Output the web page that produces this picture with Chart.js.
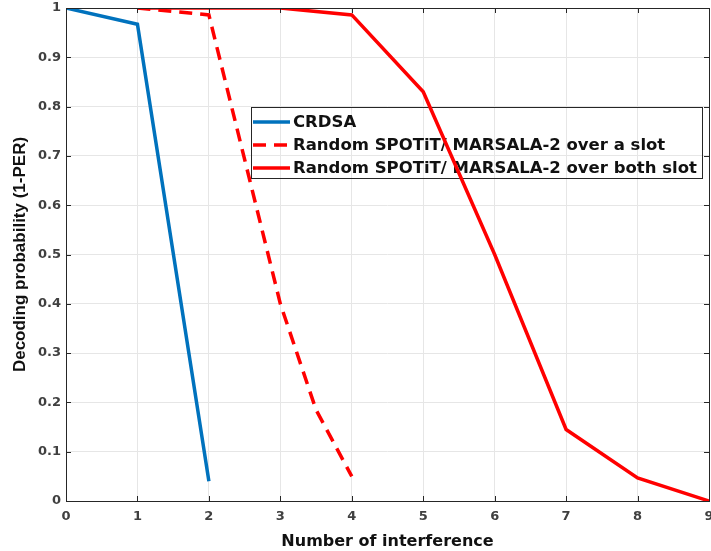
<!DOCTYPE html>
<html>
<head>
<meta charset="utf-8">
<script src="https://cdn.jsdelivr.net/npm/chart.js@4.4.1/dist/chart.umd.min.js"></script>
<style>
  body { margin: 0; background: #fff; }
  #chart { display: block; }
</style>
</head>
<body>
<canvas id="chart" width="711" height="551"></canvas>
<script>
// data \/
const crdsaX = [0, 1, 2];
const crdsaY = [1, 0.967, 0.04];
const oneSlotX = [1, 1.5, 2, 3, 3.5, 4];
const oneSlotY = [1, 0.993, 0.986, 0.4, 0.185, 0.05];
const bothSlotX = [1, 2, 3, 4, 5, 6, 7, 8, 9];
const bothSlotY = [1, 1, 1, 0.986, 0.83, 0.5, 0.145, 0.047, 0];
const seriesNames = [
    'CRDSA',
    'Random SPOTiT/ MARSALA-2 over a slot',
    'Random SPOTiT/ MARSALA-2 over both slot'
];
const xTicks = [0, 1, 2, 3, 4, 5, 6, 7, 8, 9];
const yTicks = [0, 0.1, 0.2, 0.3, 0.4, 0.5, 0.6, 0.7, 0.8, 0.9, 1];
// data /\

function toPoints(xs, ys) {
    return xs.map((x, i) => ({ x: x, y: ys[i] }));
}

const WIDE = "'DejaVu Sans', sans-serif";
const ARIAL = "'Liberation Sans', Arial, sans-serif";

// box round the plot + inward ticks, like matlab \/
const boxPlugin = {
    id: 'box',
    afterDatasetsDraw(chart) {
        const { ctx, chartArea: a, scales } = chart;
        ctx.save();
        ctx.strokeStyle = '#262626';
        ctx.lineWidth = 1;
        ctx.strokeRect(a.left + 0.5, a.top + 0.5, a.right - a.left, a.bottom - a.top);
        ctx.beginPath();
        xTicks.forEach(v => {
            const px = Math.round(scales.x.getPixelForValue(v)) + 0.5;
            ctx.moveTo(px, a.bottom); ctx.lineTo(px, a.bottom - 5);
            ctx.moveTo(px, a.top); ctx.lineTo(px, a.top + 5);
        });
        yTicks.forEach(v => {
            const py = Math.round(scales.y.getPixelForValue(v)) + 0.5;
            ctx.moveTo(a.left, py); ctx.lineTo(a.left + 5, py);
            ctx.moveTo(a.right, py); ctx.lineTo(a.right - 5, py);
        });
        ctx.stroke();
        ctx.restore();
    }
};
// box /\

// legend box inside the plot (see-through, lines go over it) \/
const legendPlugin = {
    id: 'boxLegend',
    beforeDatasetsDraw(chart) {
        const ctx = chart.ctx;
        const left = 251, top = 107, width = 451, height = 71, rowH = 23;
        ctx.save();
        ctx.strokeStyle = '#262626';
        ctx.lineWidth = 1;
        ctx.strokeRect(left + 0.5, top + 0.5, width, height);
        ctx.font = 'bold 16.5px ' + WIDE;
        ctx.textBaseline = 'middle';
        chart.data.datasets.forEach((ds, i) => {
            const y = top + 15 + i * rowH;
            ctx.strokeStyle = ds.borderColor;
            ctx.lineWidth = ds.borderWidth;
            ctx.setLineDash(ds.borderDash || []);
            ctx.beginPath();
            ctx.moveTo(left + 2, y);
            ctx.lineTo(left + 39, y);
            ctx.stroke();
            ctx.setLineDash([]);
            ctx.fillStyle = '#111';
            ctx.fillText(ds.label, left + 42, y + 1);
        });
        ctx.restore();
    }
};
// legend /\

new Chart(document.getElementById('chart'), {
    type: 'line',
    data: {
        datasets: [{
            label: seriesNames[0],
            data: toPoints(crdsaX, crdsaY),
            borderColor: '#0072BD',
            borderWidth: 3.5
        }, {
            label: seriesNames[1],
            data: toPoints(oneSlotX, oneSlotY),
            borderColor: '#ff0000',
            borderWidth: 3.5,
            borderDash: [13, 8]
        }, {
            label: seriesNames[2],
            data: toPoints(bothSlotX, bothSlotY),
            borderColor: '#ff0000',
            borderWidth: 3.5
        }]
    },
    options: {
        responsive: false,
        animation: false,
        events: [],
        layout: { padding: { top: 8, right: 2, left: 0, bottom: 0 } },
        elements: { point: { radius: 0 }, line: { tension: 0 } },
        plugins: { legend: { display: false }, tooltip: { enabled: false } },
        scales: {
            x: {
                type: 'linear',
                min: 0, max: 9,
                afterBuildTicks: s => { s.ticks = xTicks.map(v => ({ value: v })); },
                afterFit: s => { s.height = 50; s.paddingLeft = 0; s.paddingRight = 0; },
                grid: { color: '#e6e6e6', tickLength: 0 },
                border: { display: false },
                ticks: { color: '#404040', font: { family: WIDE, size: 13, weight: 'bold' }, padding: 8, maxRotation: 0 },
                title: { display: true, text: 'Number of interference', color: '#111', font: { family: WIDE, size: 16, weight: 'bold' }, padding: { top: 4, bottom: 0 } }
            },
            y: {
                min: 0, max: 1,
                afterBuildTicks: s => { s.ticks = yTicks.map(v => ({ value: v })); },
                afterFit: s => { s.width = 66; s.paddingTop = 0; s.paddingBottom = 0; },
                grid: { color: '#e6e6e6', tickLength: 0 },
                border: { display: false },
                ticks: {
                    color: '#404040', font: { family: WIDE, size: 13, weight: 'bold' }, padding: 5,
                    callback: v => String(+v.toFixed(1))
                },
                title: { display: true, text: 'Decoding probability (1-PER)', color: '#111', font: { family: ARIAL, size: 17, weight: 'bold' }, padding: { top: 10, bottom: 0 } }
            }
        }
    },
    plugins: [boxPlugin, legendPlugin]
});
</script>
</body>
</html>
